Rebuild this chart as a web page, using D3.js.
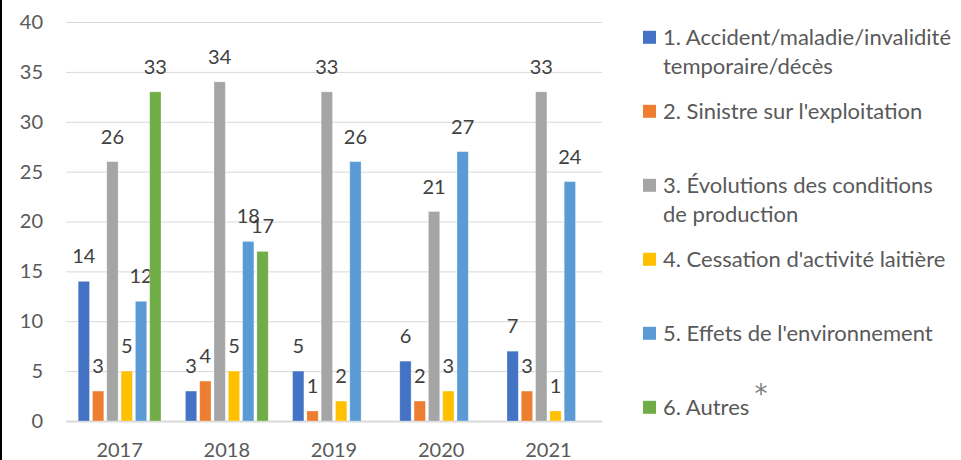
<!DOCTYPE html>
<html><head><meta charset="utf-8">
<script src="https://cdn.jsdelivr.net/npm/d3@7"></script>
<style>
html,body{margin:0;padding:0;background:#fff;}
svg{display:block;font-family:Lato,"Open Sans",sans-serif;}
</style></head>
<body><svg id="chart" width="961" height="460"></svg>
<script>
const years = ["2017","2018","2019","2020","2021"];
const seriesNames = [
  ["1. Accident/maladie/invalidité","temporaire/décès"],
  ["2. Sinistre sur l'exploitation"],
  ["3. Évolutions des conditions","de production"],
  ["4. Cessation d'activité laitière"],
  ["5. Effets de l'environnement"],
  ["6. Autres"]
];
const colors = ["#4472C4","#ED7D31","#A5A5A5","#FFC000","#5B9BD5","#70AD47"];
const s1 = [14, 3, 5, 6, 7];
const s2 = [3, 4, 1, 2, 3];
const s3 = [26, 34, 33, 21, 33];
const s4 = [5, 5, 2, 3, 1];
const s5 = [12, 18, 26, 27, 24];
const s6 = [33, 17, null, null, null];
const series = [s1, s2, s3, s4, s5, s6];
const yTicks = [0, 5, 10, 15, 20, 25, 30, 35, 40];

(function(){
const svg = d3.select("#chart");
const mLeft = 66, mRight = 602, mTop = 22, mBottom = 421;

svg.append("line").attr("x1",1).attr("x2",1).attr("y1",0).attr("y2",460)
  .attr("stroke","#000").attr("stroke-width",2);

const y = d3.scaleLinear().domain([0,40]).range([mBottom, mTop]);
const x0 = d3.scaleBand().domain(years).range([mLeft, mRight]).padding(0);
const x1 = d3.scaleBand().domain(d3.range(series.length))
  .range([0, x0.bandwidth()]).paddingInner(0.21).paddingOuter(0.853);

const yAxis = svg.append("g").attr("transform",`translate(${mLeft},0)`)
  .call(d3.axisLeft(y).tickValues(yTicks).tickSize(-(mRight-mLeft)).tickPadding(23));
yAxis.select(".domain").remove();
yAxis.selectAll(".tick line").attr("stroke","#d9d9d9").attr("stroke-width",1)
  .filter(d => d === 0).attr("stroke-width",2);
yAxis.selectAll(".tick text").attr("fill","#595959").style("font-size","20px")
  .style("font-family","Lato, sans-serif");

const xAxis = svg.append("g").attr("transform",`translate(0,${mBottom})`)
  .call(d3.axisBottom(x0).tickSize(0).tickPadding(22));
xAxis.select(".domain").remove();
xAxis.selectAll(".tick text").attr("fill","#595959").style("font-size","20px")
  .style("font-family","Lato, sans-serif");

const groups = svg.append("g").selectAll("g").data(years).join("g")
  .attr("transform", d => `translate(${x0(d)},0)`);
const cells = groups.selectAll("g.cell")
  .data((yr, yi) => series.map((s, si) => ({si, v: s[yi]})).filter(d => d.v !== null))
  .join("g").attr("class","cell");
cells.append("rect")
  .attr("x", d => x1(d.si))
  .attr("width", x1.bandwidth())
  .attr("y", d => y(d.v))
  .attr("height", d => y(0) - y(d.v))
  .attr("fill", d => colors[d.si])
  .attr("stroke","#ffffff").attr("stroke-opacity",0.35).attr("stroke-width",0.8);
cells.append("text")
  .attr("x", d => x1(d.si) + x1.bandwidth()/2)
  .attr("y", d => y(d.v) - 18)
  .attr("text-anchor","middle")
  .attr("fill","#404040").style("font-size","20px")
  .text(d => d.v);

const leg = svg.append("g").selectAll("g").data(seriesNames).join("g")
  .attr("transform", (d,i) => `translate(643,${37.3 + i*74})`);
leg.append("rect").attr("x",0).attr("y",-6.5).attr("width",13).attr("height",13)
  .attr("fill", (d,i) => colors[i]);
leg.append("text").attr("x",20).attr("y",0).attr("fill","#595959")
  .style("font-size","22px")
  .selectAll("tspan").data(d => d).join("tspan")
  .attr("x",20).attr("dy",(d,i) => i === 0 ? "0.35em" : "29.4px")
  .text(d => d);

svg.append("text").attr("x",761).attr("y",403)
  .attr("text-anchor","middle").attr("fill","#7f7f7f")
  .style("font-family","DejaVu Sans, sans-serif").style("font-size","26px").text("*");
})();
</script></body></html>
